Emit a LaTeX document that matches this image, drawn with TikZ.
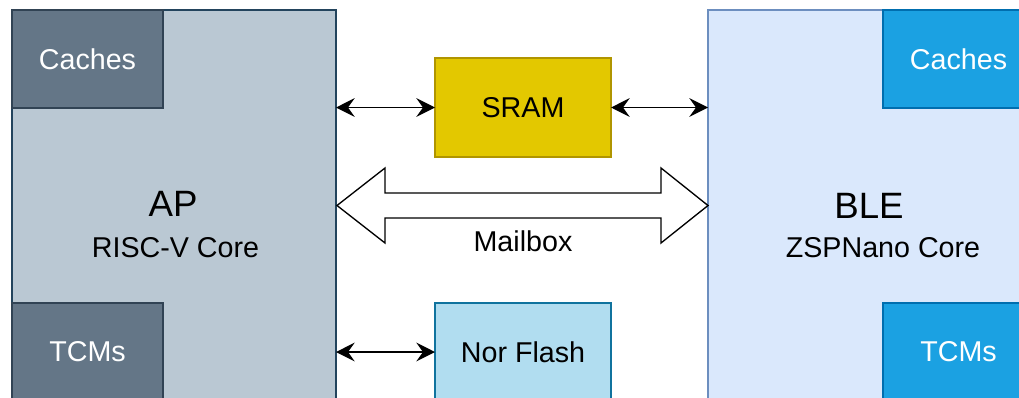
\documentclass[tikz,border=0pt]{standalone}
\usepackage{mathtools}
\usepackage{fontspec}
\setmainfont{Liberation Sans}
\usepackage{tikz}
\usetikzlibrary{arrows.meta}

\definecolor{apfill}{HTML}{BAC8D3}
\definecolor{apline}{HTML}{23445D}
\definecolor{apdark}{HTML}{647687}
\definecolor{apdarkline}{HTML}{314354}
\definecolor{blefill}{HTML}{DAE8FC}
\definecolor{bleline}{HTML}{6C8EBF}
\definecolor{bledark}{HTML}{1BA1E2}
\definecolor{bledarkline}{HTML}{006EAF}
\definecolor{sramfill}{HTML}{E3C800}
\definecolor{sramline}{HTML}{B09500}
\definecolor{norfill}{HTML}{B1DDF0}
\definecolor{norline}{HTML}{10739E}

\begin{document}
\begin{tikzpicture}[x=0.75pt,y=-0.75pt,
	box/.style={draw, line width=1pt, inner sep=0pt, outer sep=0pt},
	small/.style={font=\fontsize{21.5}{24}\selectfont},
	big/.style={font=\fontsize{27.5}{30}\selectfont},
	bus/.style={line width=1.2pt, {Stealth[length=14pt,width=14pt,inset=5pt]}-{Stealth[length=14pt,width=14pt,inset=5pt]}}]
		\useasboundingbox (0,0) rectangle (1019,397);
		\clip (0,0) rectangle (1019,397);
		%AP
		\node (ap) [box, fill=apfill, draw=apline, minimum width=243pt, minimum height=293.25pt] at (174,205.5) {};
		\node (apc) [box, fill=apdark, draw=apdarkline, text=white, small, minimum width=113.25pt, minimum height=73.5pt] at (87.5,59) {Caches};
		\node (apt) [box, fill=apdark, draw=apdarkline, text=white, small, minimum width=113.25pt, minimum height=73.5pt] at (87.5,352) {TCMs};
		\node (apn) [big, anchor=base] at (173,216.7) {AP};
		\node (apk) [small, anchor=base] at (175.5,257.3) {RISC-V Core};
		%BLE
		\node (ble) [box, fill=blefill, draw=bleline, minimum width=243pt, minimum height=293.25pt] at (870,205.5) {};
		\node (blec) [box, fill=bledark, draw=bledarkline, text=white, small, minimum width=113.25pt, minimum height=73.5pt] at (958.5,59) {Caches};
		\node (blet) [box, fill=bledark, draw=bledarkline, text=white, small, minimum width=113.25pt, minimum height=73.5pt] at (958.5,352) {TCMs};
		\node (blen) [big, anchor=base] at (869,218) {BLE};
		\node (blek) [small, anchor=base] at (883,257.3) {ZSPNano Core};
		%Minne
		\node (sram) [box, fill=sramfill, draw=sramline, small, minimum width=132pt, minimum height=74.25pt] at (523,107.5) {SRAM};
		\node (nor) [box, fill=norfill, draw=norline, small, minimum width=132pt, minimum height=73.5pt] at (523,352) {Nor Flash};
		\draw [bus] (sram.west -| ap.east) -- (sram.west);
		\draw [bus] (sram.east) -- (sram.east -| ble.west);
		\draw [bus] (nor.west -| ap.east) -- (nor.west);
		%Mailbox
		\draw [line width=1pt, fill=white, line join=miter] (337,205.5) -- (385,168) -- (385,193) -- (661,193) -- (661,168) -- (708,205.5) -- (661,243) -- (661,218) -- (385,218) -- (385,243) -- cycle;
		\node (mb) [small, anchor=base] at (523,251.7) {Mailbox};
	\end{tikzpicture}
\end{document}
